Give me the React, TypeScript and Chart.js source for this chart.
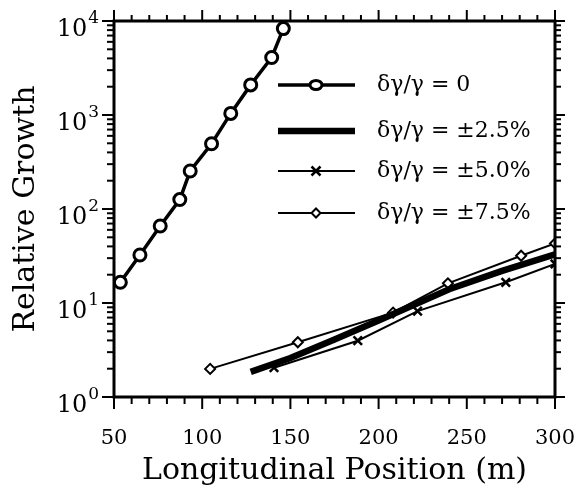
import React, { useEffect, useRef } from "react";
import { Chart, registerables } from "chart.js";

Chart.register(...registerables);

// Data
const pos0 = [53.6, 64.7, 76.2, 87.3, 93.2, 105.3, 116.2, 127.5, 139.4, 146];
const growth0 = [16.6, 32.4, 66, 126, 254, 494, 1040, 2090, 4090, 8300];

const pos25 = [127.5, 150, 175, 200, 240, 270, 300];
const growth25 = [1.85, 2.6, 4.1, 6.5, 14, 22, 33];

const pos50 = [140.7, 188.2, 222.1, 272.1, 300];
const growth50 = [2.05, 3.97, 8.2, 16.6, 26];

const pos75 = [104.5, 154.2, 208.2, 239.3, 280.8, 300];
const growth75 = [1.99, 3.82, 7.9, 16.2, 31.8, 43];

const labels = ["δγ/γ = 0", "δγ/γ = ±2.5%", "δγ/γ = ±5.0%", "δγ/γ = ±7.5%"];
const yTickValues = [1, 10, 100, 1000, 10000];
const yTickExponents = ["0", "1", "2", "3", "4"];
const yTickLabels = ["10⁰", "10¹", "10²", "10³", "10⁴"];
const xTitle = "Longitudinal Position (m)";
const yTitle = "Relative Growth";

const FONT = "'DejaVu Serif', serif";

const toPts = (xs: number[], ys: number[]) => xs.map((x, i) => ({ x, y: ys[i] }));

const framePlugin = {
  id: "frame",
  afterDatasetsDraw(chart: any) {
    const { ctx, chartArea, scales } = chart;
    const { left, right, top, bottom } = chartArea;
    const x = scales.x;
    const y = scales.y;
    ctx.save();
    ctx.strokeStyle = "#000";
    ctx.lineWidth = 3;
    ctx.strokeRect(left, top, right - left, bottom - top);
    ctx.lineWidth = 2;
    const line = (a: number, b: number, c: number, d: number) => {
      ctx.beginPath();
      ctx.moveTo(a, b);
      ctx.lineTo(c, d);
      ctx.stroke();
    };
    for (let v = 50; v <= 300; v += 10) {
      const px = x.getPixelForValue(v);
      const major = v % 50 === 0;
      line(px, bottom, px, bottom + (major ? 12 : 7));
      line(px, top, px, top - (major ? 11 : 6));
    }
    for (let d = 0; d <= 4; d++) {
      for (let m = 1; m <= 9; m++) {
        if (d === 4 && m > 1) break;
        const val = m * Math.pow(10, d);
        const py = y.getPixelForValue(val);
        const major = m === 1;
        line(left, py, left - (major ? 12 : 7), py);
        line(right, py, right + (major ? 10 : 6), py);
      }
    }
    // y tick labels: 10 with superscript exponent
    ctx.fillStyle = "#000";
    ctx.textBaseline = "alphabetic";
    yTickValues.forEach((v, i) => {
      const py = y.getPixelForValue(v);
      const xr = left - 15;
      ctx.font = `17px ${FONT}`;
      ctx.textAlign = "right";
      const ew = ctx.measureText(yTickExponents[i]).width;
      ctx.fillText(yTickExponents[i], xr, py + 2);
      ctx.font = `24px ${FONT}`;
      ctx.fillText("10", xr - ew - 1, py + 15);
    });
    ctx.restore();
  },
};

const legendPlugin = {
  id: "customLegend",
  afterDraw(chart: any) {
    const { ctx } = chart;
    const rows = [85, 131, 171, 213];
    const x0 = 278;
    const x1 = 355;
    const xm = 316;
    const tx = 377;
    ctx.save();
    chart.data.datasets.forEach((ds: any, i: number) => {
      const yy = rows[i];
      ctx.strokeStyle = "#000";
      ctx.lineWidth = ds.borderWidth;
      ctx.beginPath();
      ctx.moveTo(x0, yy);
      ctx.lineTo(x1, yy);
      ctx.stroke();
      if (i === 0) {
        ctx.fillStyle = "#fff";
        ctx.lineWidth = 3;
        ctx.beginPath();
        ctx.ellipse(xm, yy, 6, 4.5, 0, 0, Math.PI * 2);
        ctx.fill();
        ctx.stroke();
      } else if (i === 2) {
        ctx.lineWidth = 2.5;
        ctx.beginPath();
        ctx.moveTo(xm - 4.5, yy - 4.5);
        ctx.lineTo(xm + 4.5, yy + 4.5);
        ctx.moveTo(xm + 4.5, yy - 4.5);
        ctx.lineTo(xm - 4.5, yy + 4.5);
        ctx.stroke();
      } else if (i === 3) {
        ctx.fillStyle = "#fff";
        ctx.lineWidth = 2;
        ctx.beginPath();
        ctx.moveTo(xm, yy - 4.5);
        ctx.lineTo(xm + 4.5, yy);
        ctx.lineTo(xm, yy + 4.5);
        ctx.lineTo(xm - 4.5, yy);
        ctx.closePath();
        ctx.fill();
        ctx.stroke();
      }
      ctx.fillStyle = "#000";
      ctx.font = `22px ${FONT}`;
      ctx.textAlign = "left";
      ctx.textBaseline = "middle";
      ctx.fillText(ds.label, tx, yy);
    });
    ctx.restore();
  },
};

export default function App() {
  const ref = useRef<HTMLCanvasElement | null>(null);
  useEffect(() => {
    if (!ref.current) return;
    const chart = new Chart(ref.current, {
      type: "line",
      data: {
        datasets: [
          {
            label: labels[0],
            data: toPts(pos0, growth0),
            borderColor: "#000",
            borderWidth: 3.5,
            pointStyle: "circle",
            pointRadius: 6,
            pointBorderWidth: 3,
            pointBackgroundColor: "#fff",
            pointBorderColor: "#000",
          },
          {
            label: labels[1],
            data: toPts(pos25, growth25),
            borderColor: "#000",
            borderWidth: 6.5,
            pointRadius: 0,
          },
          {
            label: labels[2],
            data: toPts(pos50, growth50),
            borderColor: "#000",
            borderWidth: 2,
            pointStyle: "crossRot",
            pointRadius: 6,
            pointBorderWidth: 2.5,
            pointBorderColor: "#000",
          },
          {
            label: labels[3],
            data: toPts(pos75, growth75),
            borderColor: "#000",
            borderWidth: 2,
            pointStyle: "rectRot",
            pointRadius: 5,
            pointBorderWidth: 2,
            pointBackgroundColor: "#fff",
            pointBorderColor: "#000",
          },
        ],
      },
      options: {
        responsive: false,
        animation: false,
        layout: { padding: { top: 21, right: 29, left: 8, bottom: 0 } },
        plugins: { legend: { display: false }, tooltip: { enabled: false } },
        elements: { line: { tension: 0 } },
        scales: {
          x: {
            type: "linear",
            min: 50,
            max: 300,
            grid: { display: false, drawTicks: false },
            border: { display: false },
            ticks: {
              stepSize: 50,
              padding: 29,
              color: "#000",
              font: { family: FONT, size: 21 },
              maxRotation: 0,
            },
            title: {
              display: true,
              text: xTitle,
              color: "#000",
              font: { family: FONT, size: 30 },
              padding: { top: 0, bottom: 4 },
            },
            afterFit: (s: any) => {
              s.height = 96;
              s.paddingLeft = 0;
              s.paddingRight = 0;
            },
          },
          y: {
            type: "logarithmic",
            min: 1,
            max: 10000,
            grid: { display: false, drawTicks: false },
            border: { display: false },
            afterBuildTicks: (s: any) => {
              s.ticks = yTickValues.map((v) => ({ value: v }));
            },
            ticks: {
              display: false,
              autoSkip: false,
              callback: (v: any) => {
                const i = yTickValues.indexOf(Number(v));
                return i >= 0 ? yTickLabels[i] : "";
              },
            },
            title: {
              display: true,
              text: yTitle,
              color: "#000",
              font: { family: FONT, size: 30 },
              padding: { top: 0, bottom: 0 },
            },
            afterFit: (s: any) => {
              s.width = 106;
              s.paddingTop = 0;
              s.paddingBottom = 0;
            },
          },
        },
      },
      plugins: [framePlugin, legendPlugin],
    });
    return () => chart.destroy();
  }, []);
  return (
    <div style={{ position: "fixed", left: 0, top: 0, width: 584, height: 493, background: "#fff" }}>
      <canvas ref={ref} width={584} height={493} style={{ display: "block" }} />
    </div>
  );
}
